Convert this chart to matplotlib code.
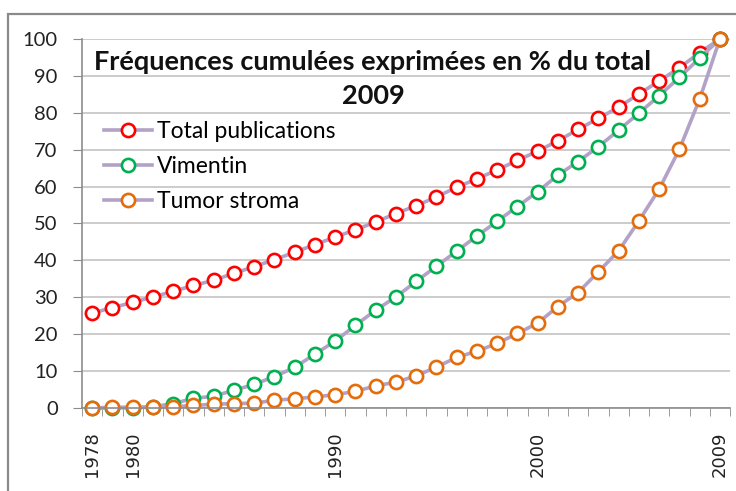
import numpy as np
import matplotlib.pyplot as plt
from matplotlib.patches import Rectangle

years = list(range(1978, 2010))
shown_years = [1978, 1980, 1990, 2000, 2009]
total = [25.7, 27.2, 28.6, 30.1, 31.6, 33.2, 34.6, 36.5, 38.3, 40.2, 42.2, 44.3,
         46.3, 48.3, 50.4, 52.7, 54.8, 57.2, 59.8, 62.1, 64.5, 67.1, 69.6, 72.4,
         75.5, 78.5, 81.5, 85.1, 88.6, 92.2, 96.3, 100]
vimentin = [0, 0, 0.1, 0.3, 1.2, 2.6, 3.2, 4.8, 6.4, 8.5, 11.0, 14.6,
            18.1, 22.4, 26.5, 30.1, 34.3, 38.4, 42.5, 46.6, 50.6, 54.6, 58.6, 63.1,
            66.8, 70.8, 75.3, 79.9, 84.6, 89.6, 94.8, 100]
stroma = [0, 0.2, 0.2, 0.3, 0.3, 0.7, 1.0, 1.2, 1.3, 2.1, 2.5, 3.0,
          3.6, 4.5, 6.0, 7.0, 8.7, 11.1, 13.7, 15.4, 17.5, 20.2, 23.0, 27.5,
          31.3, 36.9, 42.6, 50.7, 59.3, 70.1, 83.7, 100]
series = [("Total publications", total, "#ff0000"),
          ("Vimentin", vimentin, "#00b050"),
          ("Tumor stroma", stroma, "#e46c0a")]

LINE = "#b3a2c7"
GRID = "#c4c4c4"
AXIS = "#8c8c8c"


def main():
    fig = plt.figure(figsize=(7.36, 4.91), dpi=100)
    ax = fig.add_axes([82 / 736, 83 / 491, 648 / 736, 369 / 491])

    x = np.arange(len(years))
    for name, vals, col in series:
        ax.plot(x, vals, color=LINE, linewidth=2.6, marker="o", markersize=9.5,
                markerfacecolor="white", markeredgecolor=col, markeredgewidth=1.9,
                label=name, clip_on=False)

    ax.set_xlim(-0.5, len(years) - 0.5)
    ax.set_ylim(0, 100)
    ax.set_yticks(range(0, 101, 10))
    ax.yaxis.grid(True, color=GRID, linewidth=1.2)
    ax.set_axisbelow(True)

    ax.set_xticks(x)
    ax.set_xticklabels([str(y) if y in shown_years else "" for y in years],
                       rotation=90, fontsize=13, family="DejaVu Sans", color="#222222")
    ax.set_xticks(np.arange(-0.5, len(years)), minor=True)
    ax.tick_params(axis="x", which="major", length=0, pad=17)
    ax.tick_params(axis="x", which="minor", length=6, color=AXIS, direction="out")
    ax.tick_params(axis="y", length=6.5, color=AXIS, pad=11)
    for lab in ax.get_yticklabels():
        lab.set_family("Lato")
        lab.set_fontsize(14.5)
        lab.set_color("#222222")

    for s in ["top", "right"]:
        ax.spines[s].set_visible(False)
    for s in ["left", "bottom"]:
        ax.spines[s].set_color(AXIS)
        ax.spines[s].set_linewidth(1.2)

    fig.text(373 / 736, 1 - 79 / 491, "Fréquences cumulées exprimées en % du total\n2009",
             ha="center", va="center", fontsize=19.5, fontweight="bold",
             family="Lato", linespacing=1.45, color="#111111")

    ax.legend(loc="upper left", bbox_to_anchor=(22 / 648, 1 - 82 / 369), frameon=False,
              prop={"family": "Lato", "size": 16.5}, handlelength=2.1,
              handletextpad=0.22, labelspacing=0.61, borderaxespad=0, borderpad=0)

    fig.patches.append(Rectangle((8 / 736, -0.1), 1.2, 1 - 14 / 491 + 0.1,
                                 transform=fig.transFigure, fill=False,
                                 edgecolor="#8a8a8a", linewidth=1.6))

    fig.savefig("out.png", dpi=100)


if __name__ == "__main__":
    main()
